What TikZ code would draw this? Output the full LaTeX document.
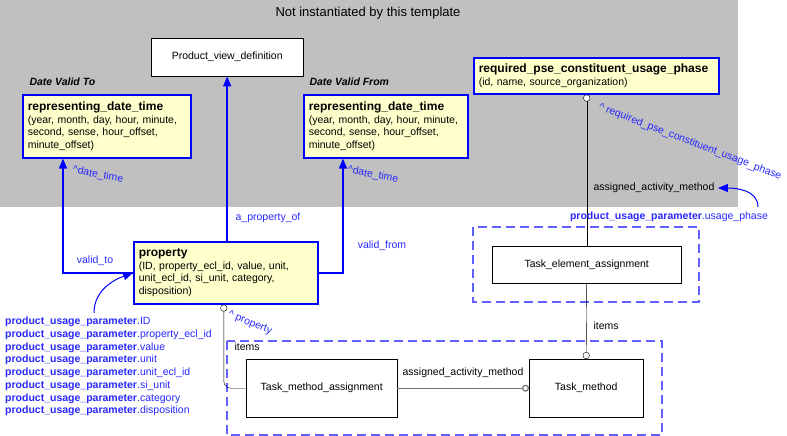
\documentclass[tikz,border=0pt]{standalone}
\usepackage{fontspec}
\setmainfont{Liberation Sans}
\usetikzlibrary{arrows.meta}
\definecolor{lnkblue}{RGB}{0,0,255}
\definecolor{txtblue}{RGB}{40,40,255}
\definecolor{boxyellow}{RGB}{255,255,204}
\definecolor{tplgray}{RGB}{192,192,192}
\definecolor{dashblue}{RGB}{96,96,255}
\newcommand\enthead[1]{{\fontsize{12}{14}\selectfont\bfseries #1}}
\newcommand\pup{\textbf{product\_usage\_parameter}}
\begin{document}
\begin{tikzpicture}[x=1pt,y=-1pt,font=\fontsize{10.5}{12.7}\selectfont,
    ent/.style={draw=lnkblue,line width=1.6pt,fill=boxyellow,anchor=north west,align=left,inner sep=5pt},
    obj/.style={draw,fill=white,anchor=north west,inner sep=0pt},
    link/.style={draw=lnkblue,line width=1.6pt,-{Triangle[length=10pt,width=8pt]}},
    lbl/.style={text=txtblue,inner sep=1pt},
    grp/.style={draw=dashblue,line width=1.3pt,dash pattern=on 9pt off 5pt},
    ring/.tip={Circle[length=7pt,fill=white]},
    node distance={264.5pt}]
    \useasboundingbox(0,0)rectangle(787,436);
    \fill[tplgray](0,0)rectangle(738,207);
    \node(ttl)at(368,13){\fontsize{13}{15}\selectfont Not instantiated by this template};
    \node[obj,minimum width=152pt,minimum height=38pt](pvd)at(151,38){Product\_view\_definition};
    \node[ent,text width=158pt,minimum height=63pt](rdtL)at(22,94){\enthead{representing\_date\_time}\\(year, month, day, hour, minute,\\second, sense, hour\_offset,\\minute\_offset)};
    \node[ent,text width=154pt,minimum height=63pt](rdtR)at(303,94){\enthead{representing\_date\_time}\\(year, month, day, hour, minute,\\second, sense, hour\_offset,\\minute\_offset)};
    \node[ent,text width=235pt,minimum height=36pt](rpcup)at(473,57){\enthead{required\_pse\_constituent\_usage\_phase}\\(id, name, source\_organization)};
    \node[ent,text width=174pt,minimum height=62pt](prop)at(133,241){\enthead{property}\\(ID, property\_ecl\_id, value, unit,\\unit\_ecl\_id, si\_unit, category,\\disposition)};
    \node[obj,minimum width=189pt,minimum height=37pt](tea)at(492,246){Task\_element\_assignment};
    \node[obj,minimum width=151pt,minimum height=58pt](tma)at(246,359){Task\_method\_assignment};
    \node[draw,fill=white,inner sep=0pt,minimum width=114pt,minimum height=58pt](tm)[right of=tma]{Task\_method};
    \node[anchor=west,font=\fontsize{10.5}{12.7}\selectfont\bfseries\itshape](dvt)at(26,82){Date Valid To};
    \node[anchor=west,font=\fontsize{10.5}{12.7}\selectfont\bfseries\itshape](dvf)at(306,82){Date Valid From};
    \draw[grp](473,227)rectangle(699,302);
    \draw[grp](227,341)rectangle(662,435);
    \draw[link](pvd.south|-prop.north)--(pvd.south);
    \draw[link](prop.west)-|([xshift=41pt]rdtL.south west);
    \draw[link](prop.east)-|([xshift=40pt]rdtR.south west);
    \draw[{ring}-](rpcup.south-|tea.north)--(tea.north);
    \draw[-{ring}](tea.south)--(tm.north);
    \draw[draw=black!55,line width=1.2pt,-{ring}](tma)--(tm);
    \draw[{ring}-,rounded corners=7pt]([xshift=-2pt]prop.south)|-(tma.west);
    \node[lbl,rotate=-11](dtL)at(98,175){\textasciicircum date\_time};
    \node[lbl,rotate=-11](dtR)at(373,175){\textasciicircum date\_time};
    \node[lbl](apo)at(268,218){a\_property\_of};
    \node[lbl](vf)at(382,246){valid\_from};
    \node[lbl](vt)at(95,261){valid\_to};
    \node[lbl,rotate=-22](prp)at(250,323){\textasciicircum{} property};
    \node[lbl,rotate=-21](rq)at(690,142){\textasciicircum{} required\_pse\_constituent\_usage\_phase};
    \node(aam)at(654,188){assigned\_activity\_method};
    \node[lbl](up)at(669,217){\pup.usage\_phase};
    \node[anchor=west](it1)at(590,326){items};
    \node[anchor=west](it2)at(231,347){items};
    \node(aam2)at(463,373){assigned\_activity\_method};
    \node[lbl,anchor=north west,align=left](lst)at(4,316){\pup.ID\\\pup.property\_ecl\_id\\\pup.value\\\pup.unit\\\pup.unit\_ecl\_id\\\pup.si\_unit\\\pup.category\\\pup.disposition};
    \coordinate(c1)at(758,207);
    \coordinate(c2)at(94,313);
    \draw[link,line width=1pt](c1)to[out=90,in=0](aam.east);
    \draw[link,line width=1pt](c2)to[out=90,in=200](prop.west);
\end{tikzpicture}
\end{document}
